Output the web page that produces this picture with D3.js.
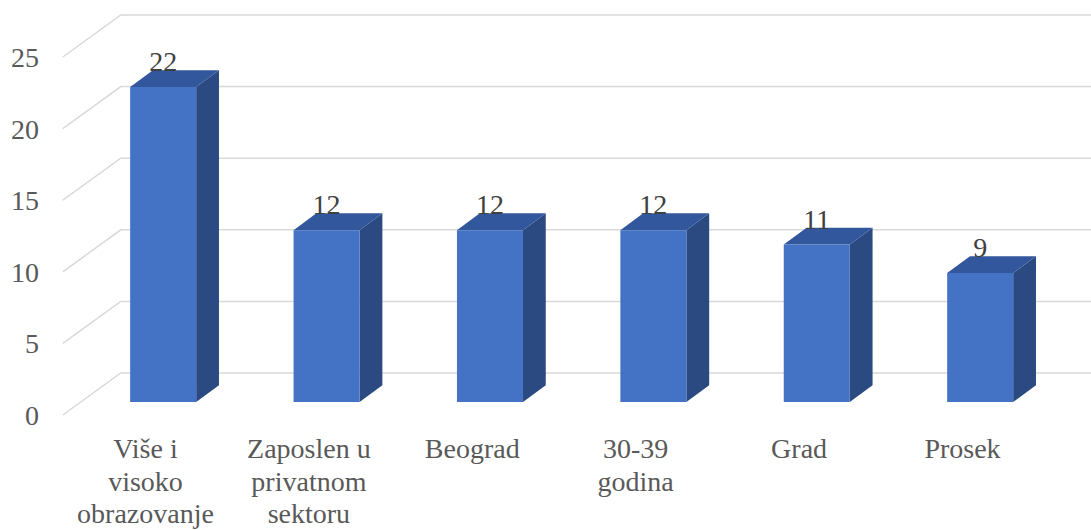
<!DOCTYPE html>
<html>
<head>
<meta charset="utf-8">
<script src="https://cdn.jsdelivr.net/npm/d3@7"></script>
<style>
  body { margin: 0; background: #fff; }
  svg { display: block; }
  svg text { font-family: "Liberation Serif", "Times New Roman", Times, "DejaVu Serif", serif; }
</style>
</head>
<body>
<div class="canvas"></div>
<script>
const width = 1091;
const height = 530;

// chart data
const categories = [
  ["Više i", "visoko", "obrazovanje"],
  ["Zaposlen u", "privatnom", "sektoru"],
  ["Beograd"],
  ["30-39", "godina"],
  ["Grad"],
  ["Prosek"]
];
const values = [22, 12, 12, 12, 11, 9];
const yTicks = [0, 5, 10, 15, 20, 25];

// 3d look: offset of the back wall and of the bar depth
const depth = { dx: 57, dy: -42 };
const barDepth = { from: 0.31, to: 0.71 };

const svg = d3.select(".canvas")
  .append("svg")
  .attr("width", width)
  .attr("height", height);

const x = d3.scaleBand()
  .domain(d3.range(values.length))
  .range([63.8, 1044.2])
  .padding(0);

const y = d3.scaleLinear()
  .domain([0, 25])
  .range([415, 57]);

const proj = (px, py, d) => [px + depth.dx * d, py + depth.dy * d];

// gridlines (side wall diagonal + back wall)
const grid = svg.append("g");
yTicks.forEach(t => {
  const [bx, by] = proj(x.range()[0], y(t), 1);
  grid.append("path")
    .attr("d", `M${x.range()[0] - 1},${y(t)} L${bx},${by} L${width + 5},${by}`)
    .attr("fill", "none")
    .attr("stroke", "#d9d9d9")
    .attr("stroke-width", 1.5);
});

// y axis labels
svg.append("g")
  .selectAll("text")
  .data(yTicks)
  .enter()
  .append("text")
  .attr("x", 39)
  .attr("y", d => y(d) + 10)
  .attr("text-anchor", "end")
  .attr("font-size", 28)
  .attr("fill", "#595959")
  .text(d => d);

// bars
const barW = x.bandwidth() * 0.404;
const bars = svg.append("g")
  .selectAll("g")
  .data(values)
  .enter()
  .append("g");

const pts = (d, i) => {
  const left = x(i) + (x.bandwidth() - barW) / 2;
  const right = left + barW;
  const f = barDepth.from, b = barDepth.to;
  return {
    fbl: proj(left, y(0), f), fbr: proj(right, y(0), f),
    ftl: proj(left, y(d), f), ftr: proj(right, y(d), f),
    bbr: proj(right, y(0), b), btl: proj(left, y(d), b), btr: proj(right, y(d), b)
  };
};
const poly = arr => "M" + arr.map(p => p.join(",")).join("L") + "Z";

bars.append("path")
  .attr("d", (d, i) => { const p = pts(d, i); return poly([p.fbr, p.bbr, p.btr, p.ftr]); })
  .attr("fill", "#2b4a82");

bars.append("path")
  .attr("d", (d, i) => { const p = pts(d, i); return poly([p.ftl, p.ftr, p.btr, p.btl]); })
  .attr("fill", "#32579c");

bars.append("path")
  .attr("d", (d, i) => { const p = pts(d, i); return poly([p.fbl, p.fbr, p.ftr, p.ftl]); })
  .attr("fill", "#4472c4");

// value labels
bars.append("text")
  .attr("x", (d, i) => { const p = pts(d, i); return (p.ftl[0] + p.ftr[0]) / 2; })
  .attr("y", (d, i) => pts(d, i).btl[1] + 1)
  .attr("text-anchor", "middle")
  .attr("font-size", 28)
  .attr("fill", "#404040")
  .text(d => d);

// category labels
const cat = svg.append("g")
  .selectAll("text")
  .data(categories)
  .enter()
  .append("text")
  .attr("text-anchor", "middle")
  .attr("font-size", 28)
  .attr("fill", "#595959");

cat.selectAll("tspan")
  .data((d, i) => d.map(line => ({ line, i })))
  .enter()
  .append("tspan")
  .attr("x", d => x(d.i) + x.bandwidth() / 2)
  .attr("y", (d, j) => 458 + j * 32.5)
  .text(d => d.line);
</script>
</body>
</html>
